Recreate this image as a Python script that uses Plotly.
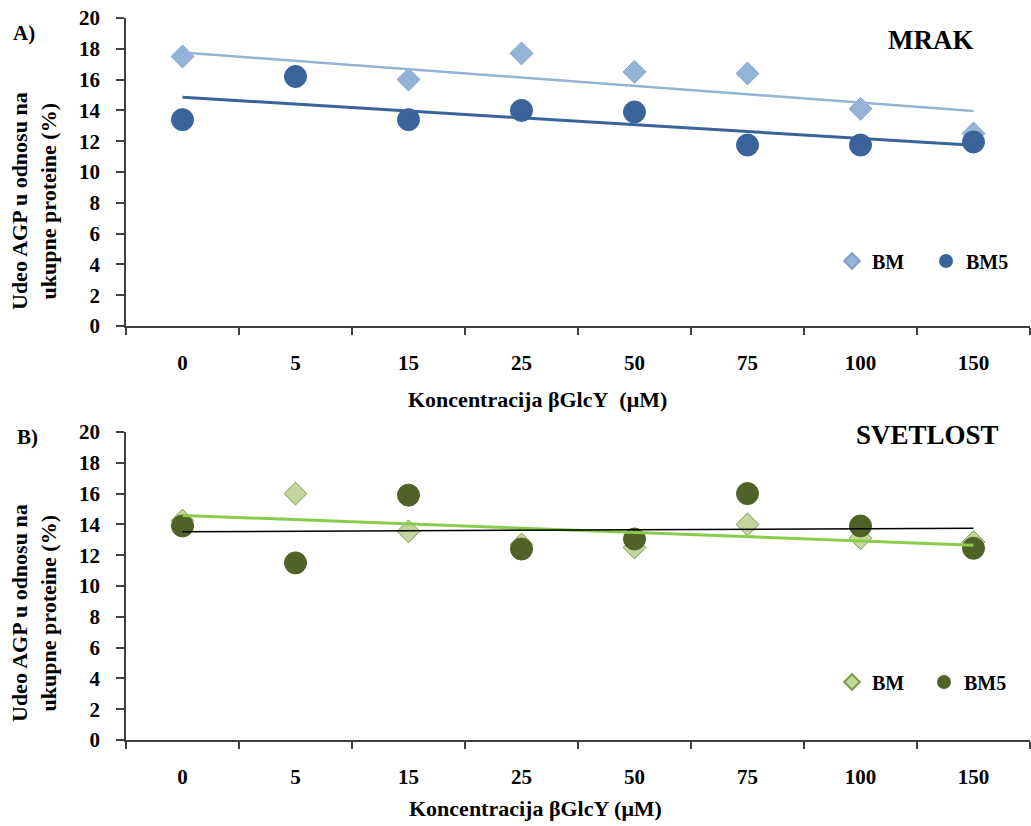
import numpy as np
import plotly.graph_objects as go

# ---------------- data ----------------
categories = ["0", "5", "15", "25", "50", "75", "100", "150"]
mrak_bm = [17.5, 16.2, 16.0, 17.7, 16.5, 16.4, 14.1, 12.5]
mrak_bm5 = [13.4, 16.2, 13.4, 14.0, 13.9, 11.75, 11.75, 11.95]
svet_bm = [14.25, 16.0, 13.55, 12.7, 12.5, 14.0, 13.1, 12.85]
svet_bm5 = [13.9, 11.5, 15.9, 12.4, 13.05, 16.0, 13.9, 12.45]
y_ticks = [0, 2, 4, 6, 8, 10, 12, 14, 16, 18, 20]

W, H = 1031, 826
FONT = "Liberation Serif"


def trend(vals):
    idx = np.arange(len(vals))
    k, b = np.polyfit(idx, vals, 1)
    return [b, k * (len(vals) - 1) + b]


fig = go.Figure()

# colours
BM_TOP = "#95B3D7"
BM_TOP_EDGE = "#7F9FCB"
BM5_TOP = "#3A6399"
BM_BOT = "#C3D69B"
BM_BOT_EDGE = "#7E9A4A"
BM5_BOT = "#4F6228"

# top panel
fig.add_trace(go.Scatter(x=categories, y=mrak_bm, mode="markers", name="BM",
                         marker=dict(symbol="diamond", size=17.5, color=BM_TOP,
                                     line=dict(color=BM_TOP_EDGE, width=1)),
                         xaxis="x", yaxis="y", legend="legend"))
fig.add_trace(go.Scatter(x=categories, y=mrak_bm5, mode="markers", name="BM5",
                         marker=dict(symbol="circle", size=22, color=BM5_TOP,
                                     line=dict(color=BM5_TOP, width=1)),
                         xaxis="x", yaxis="y", legend="legend2"))
fig.add_trace(go.Scatter(x=[categories[0], categories[-1]], y=trend(mrak_bm), mode="lines",
                         line=dict(color=BM_TOP, width=2.5), showlegend=False,
                         xaxis="x", yaxis="y"))
fig.add_trace(go.Scatter(x=[categories[0], categories[-1]], y=trend(mrak_bm5), mode="lines",
                         line=dict(color=BM5_TOP, width=3), showlegend=False,
                         xaxis="x", yaxis="y"))

# bottom panel
fig.add_trace(go.Scatter(x=categories, y=svet_bm, mode="markers", name="BM",
                         marker=dict(symbol="diamond", size=17.5, color=BM_BOT,
                                     line=dict(color=BM_BOT_EDGE, width=1)),
                         xaxis="x2", yaxis="y2", legend="legend3"))
fig.add_trace(go.Scatter(x=categories, y=svet_bm5, mode="markers", name="BM5",
                         marker=dict(symbol="circle", size=22, color=BM5_BOT,
                                     line=dict(color=BM5_BOT, width=1)),
                         xaxis="x2", yaxis="y2", legend="legend4"))
fig.add_trace(go.Scatter(x=[categories[0], categories[-1]], y=trend(svet_bm), mode="lines",
                         line=dict(color="#8ACB4C", width=3), showlegend=False,
                         xaxis="x2", yaxis="y2"))
fig.add_trace(go.Scatter(x=[categories[0], categories[-1]], y=trend(svet_bm5), mode="lines",
                         line=dict(color="#000000", width=1.5), showlegend=False,
                         xaxis="x2", yaxis="y2"))

xd = [126 / W, 1030 / W]
top_dom = [1 - 326 / H, 1 - 18 / H]
bot_dom = [1 - 740 / H, 1 - 432 / H]

axis_col = "#404040"
tickfont = dict(family=FONT, size=21, color="#000000", weight="bold")

xaxis_common = dict(type="category", categoryorder="array", categoryarray=categories,
                    range=[-0.5, 7.5], showline=True, linecolor=axis_col, linewidth=1.5,
                    ticks="outside", tickson="boundaries", ticklen=7, tickwidth=1.5,
                    tickcolor=axis_col, showgrid=False, zeroline=False, tickfont=tickfont,
                    ticklabelstandoff=17, fixedrange=True, automargin=False)
yaxis_common = dict(range=[0, 20], tickvals=y_ticks, showline=True, linecolor=axis_col,
                    linewidth=1.5, ticks="outside", ticklen=8, tickwidth=1.5,
                    tickcolor=axis_col, showgrid=False, zeroline=False, tickfont=tickfont,
                    ticklabelstandoff=12, fixedrange=True, automargin=False)

fig.update_layout(
    template="none",
    width=W, height=H, autosize=False,
    margin=dict(l=0, r=0, t=0, b=0, pad=0, autoexpand=False),
    paper_bgcolor="white", plot_bgcolor="white",
    font=dict(family=FONT, size=20, color="#000000", weight="bold"),
    xaxis=dict(domain=xd, anchor="y", **xaxis_common),
    yaxis=dict(domain=top_dom, anchor="x", **yaxis_common),
    xaxis2=dict(domain=xd, anchor="y2", **xaxis_common),
    yaxis2=dict(domain=bot_dom, anchor="x2", **yaxis_common),
    showlegend=True,
)

leg_common = dict(orientation="h", xanchor="left", yanchor="middle", bgcolor="rgba(0,0,0,0)",
                  borderwidth=0, itemsizing="constant",
                  font=dict(family=FONT, size=20, color="#000000", weight="bold"))
fig.update_layout(
    legend=dict(x=832 / W, y=1 - 261 / H, **leg_common),
    legend2=dict(x=926 / W, y=1 - 261 / H, **leg_common),
    legend3=dict(x=832 / W, y=1 - 682 / H, **leg_common),
    legend4=dict(x=924 / W, y=1 - 682 / H, **leg_common),
)


def ann(text, px, py, size, angle=0):
    fig.add_annotation(text=text, x=px / W, y=1 - py / H, xref="paper", yref="paper",
                       showarrow=False, xanchor="center", yanchor="middle", textangle=angle,
                       font=dict(family=FONT, size=size, color="#000000", weight="bold"))


ann("A)", 24, 33, 21)
ann("B)", 27, 437, 21)
ann("MRAK", 930, 40, 27)
ann("SVETLOST", 927, 435, 27)
ann("Udeo AGP u odnosu na<br>ukupne proteine (%)", 34, 201, 22, -90)
ann("Udeo AGP u odnosu na<br>ukupne proteine (%)", 34, 613, 22, -90)
ann("Koncentracija βGlcY\u00a0 (μM)", 537, 400, 22)
ann("Koncentracija βGlcY (μM)", 535, 808, 22)

fig.write_html("out.html")
